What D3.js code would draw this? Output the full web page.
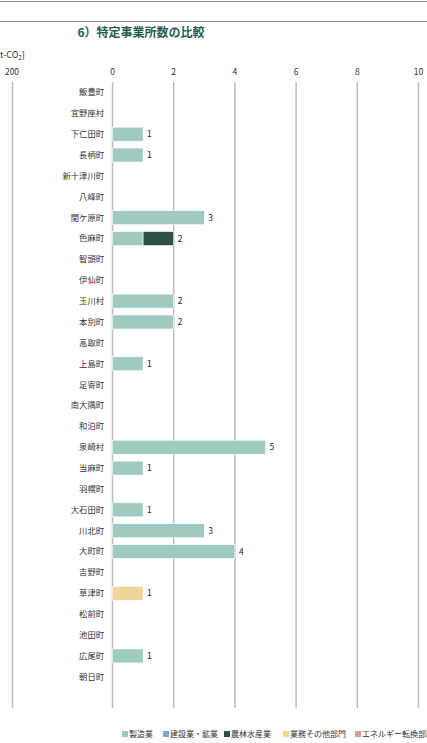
<!DOCTYPE html>
<html><head><meta charset="utf-8">
<script src="https://cdn.jsdelivr.net/npm/d3@7"></script>
<style>body{margin:0;background:#fff;}svg{display:block;font-family:"Noto Sans CJK JP","Noto Sans",sans-serif;}</style>
</head><body><svg id="c" width="427" height="743"></svg>
<script>
const categories = ["飯豊町","宜野座村","下仁田町","長柄町","新十津川町","八峰町","関ケ原町","色麻町","智頭町","伊仙町","玉川村","本別町","高取町","上島町","足寄町","南大隅町","和泊町","泉崎村","当麻町","羽幌町","大石田町","川北町","大町町","吉野町","草津町","松前町","池田町","広尾町","朝日町"];
const seriesNames = ["製造業","建設業・鉱業","農林水産業","業務その他部門","エネルギー転換部門"];
const seriesColors = ["#9ecac2","#79abb8","#2b5149","#f0d598","#d99a9a"];
const manufacturing = [0,0,1,1,0,0,3,1,0,0,2,2,0,1,0,0,0,5,1,0,1,3,4,0,0,0,0,1,0];
const construction  = [0,0,0,0,0,0,0,0,0,0,0,0,0,0,0,0,0,0,0,0,0,0,0,0,0,0,0,0,0];
const agriculture   = [0,0,0,0,0,0,0,1,0,0,0,0,0,0,0,0,0,0,0,0,0,0,0,0,0,0,0,0,0];
const commercial    = [0,0,0,0,0,0,0,0,0,0,0,0,0,0,0,0,0,0,0,0,0,0,0,0,1,0,0,0,0];
const energy        = [0,0,0,0,0,0,0,0,0,0,0,0,0,0,0,0,0,0,0,0,0,0,0,0,0,0,0,0,0];
const xTicks = [0,2,4,6,8,10];
const leftTick = "200";

const svg = d3.select("#c");
const series = [manufacturing, construction, agriculture, commercial, energy];
const table = categories.map((c,i)=>{const o={cat:c}; seriesNames.forEach((s,j)=>o[s]=series[j][i]); return o;});
const stacked = d3.stack().keys(seriesNames)(table);

const x = d3.scaleLinear().domain([0,10]).range([112.5,418.5]);
const step = 20.87;
const y = d3.scaleBand().domain(categories).range([82, 82+step*categories.length]).paddingInner(0.33).paddingOuter(0.165);
const gridBottom = 708;

// top lines
svg.append("line").attr("x1",0).attr("x2",427).attr("y1",1.5).attr("y2",1.5).attr("stroke","#8a8a8a").attr("stroke-width",1);
svg.append("line").attr("x1",0).attr("x2",427).attr("y1",21.5).attr("y2",21.5).attr("stroke","#8a8a8a").attr("stroke-width",1);

// title
svg.append("text").attr("x",141).attr("y",37).attr("text-anchor","middle").attr("font-size",12).attr("font-weight","bold").attr("fill","#1f5e52").text("6）特定事業所数の比較");

// unit
const u = svg.append("text").attr("x",0).attr("y",58).attr("font-size",9).attr("fill","#333");
u.append("tspan").text("t-CO");
u.append("tspan").attr("font-size",6).attr("dy",2).text("2");
u.append("tspan").attr("dy",-2).text("]");

// left panel axis
svg.append("text").attr("x",12).attr("y",75).attr("text-anchor","middle").attr("font-size",8.5).attr("fill","#333").text(leftTick);
svg.append("line").attr("x1",12.5).attr("x2",12.5).attr("y1",82).attr("y2",gridBottom).attr("stroke","#bdbdbd").attr("stroke-width",1.5);

// grid + ticks
const g = svg.append("g");
g.selectAll("line.grid").data(xTicks).join("line").attr("class","grid")
  .attr("x1",d=>x(d)).attr("x2",d=>x(d)).attr("y1",82).attr("y2",gridBottom)
  .attr("stroke","#bdbdbd").attr("stroke-width",1.5);
g.selectAll("text.tick").data(xTicks).join("text").attr("class","tick")
  .attr("x",d=>x(d)).attr("y",75).attr("text-anchor","middle").attr("font-size",8.5).attr("fill","#333").text(d=>d);

// category labels
svg.selectAll("text.cat").data(categories).join("text").attr("class","cat")
  .attr("x",104).attr("y",d=>y(d)+y.bandwidth()/2).attr("dy","0.35em").attr("text-anchor","end")
  .attr("font-size",8.3).attr("fill","#333").text(d=>d);

// bars
svg.selectAll("g.s").data(stacked).join("g").attr("class","s").attr("fill",(d,i)=>seriesColors[i])
  .selectAll("rect").data(d=>d.filter(p=>p[1]>p[0])).join("rect")
  .attr("x",d=>x(d[0])).attr("width",d=>x(d[1])-x(d[0]))
  .attr("y",d=>y(d.data.cat)).attr("height",y.bandwidth())
  .attr("stroke","#fff").attr("stroke-width",0.6);

// value labels
const totals = table.map((d,i)=>({cat:d.cat,t:d3.sum(series,s=>s[i])})).filter(d=>d.t>0);
svg.selectAll("text.val").data(totals).join("text").attr("class","val")
  .attr("x",d=>x(d.t)+4).attr("y",d=>y(d.cat)+y.bandwidth()/2).attr("dy","0.35em")
  .attr("font-size",8.5).attr("fill","#222").text(d=>d.t);

// legend
const legX = [122,163,224,283,355];
const lg = svg.selectAll("g.leg").data(seriesNames).join("g").attr("class","leg").attr("transform",(d,i)=>`translate(${legX[i]},737)`);
lg.append("rect").attr("x",0).attr("y",-6).attr("width",6).attr("height",6).attr("fill",(d,i)=>seriesColors[i]);
lg.append("text").attr("x",7).attr("y",0).attr("font-size",8).attr("fill","#333").text(d=>d);
</script></body></html>
